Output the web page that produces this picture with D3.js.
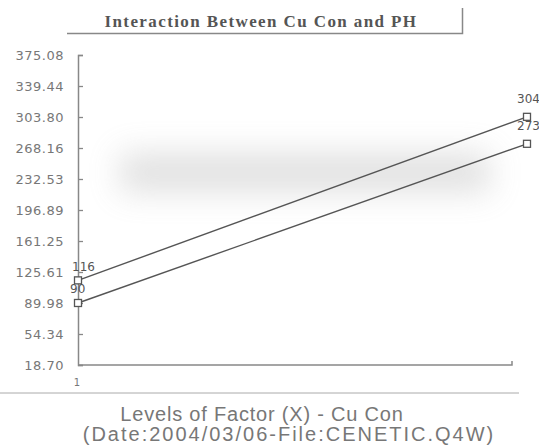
<!DOCTYPE html>
<html>
<head>
<meta charset="utf-8">
<script src="https://cdnjs.cloudflare.com/ajax/libs/d3/7.8.5/d3.min.js"></script>
<style>
  body { margin: 0; background: #fff; }
  svg { display: block; }
</style>
</head>
<body>
<div id="chart-area"></div>
<script>
// data
const levels = [1, 2]
const levelLabels = ["1", ""]
const series1 = [116, 304]
const series2 = [90, 273]
const series1Labels = ["116", "304"]
const series2Labels = ["90", "273"]
const yTicks = [18.70, 54.34, 89.98, 125.61, 161.25, 196.89, 232.53, 268.16, 303.80, 339.44, 375.08]

const W = 539, H = 446
const AX = { LEFT: 78, TOP: 55, BOTTOM: 365, END: 512 }

const svg = d3.select("#chart-area").append("svg")
  .attr("width", W)
  .attr("height", H)

const x = d3.scaleLinear()
  .domain([1, 2])
  .range([AX.LEFT, 527])
const y = d3.scaleLinear()
  .domain([18.70, 375.08])
  .range([AX.BOTTOM, AX.TOP])

// faint scan tone behind the plot
const defs = svg.append("defs")
defs.append("filter").attr("id", "blur")
  .attr("x", "-50%").attr("y", "-100%").attr("width", "200%").attr("height", "300%")
  .append("feGaussianBlur").attr("stdDeviation", 16)
svg.append("rect")
  .attr("x", 120).attr("y", y(262)).attr("width", 370).attr("height", y(218) - y(262))
  .attr("fill", "#999").attr("opacity", 0.3)
  .attr("filter", "url(#blur)")

// title box
svg.append("text")
  .attr("x", 261).attr("y", 27)
  .attr("text-anchor", "middle")
  .attr("font-family", "Liberation Serif, DejaVu Serif, serif")
  .attr("font-weight", "bold")
  .attr("font-size", "17px")
  .attr("letter-spacing", "1.4px")
  .attr("fill", "#555")
  .text("Interaction Between Cu Con and PH")
svg.append("path")
  .attr("d", "M67,33.5H462.5V8")
  .attr("fill", "none")
  .attr("stroke", "#888")
  .attr("stroke-width", 1.5)

// Y axis
const yAxisCall = d3.axisRight(y)
  .tickValues(yTicks)
  .tickSize(5)
  .tickFormat("")
const yAxis = svg.append("g")
  .attr("transform", `translate(${AX.LEFT}, 0)`)
  .call(yAxisCall)
yAxis.select(".domain").attr("stroke", "#888").attr("stroke-width", 1.5)
yAxis.selectAll(".tick line").attr("stroke", "#888").attr("stroke-width", 1.3)

svg.selectAll(".ylab")
  .data(yTicks)
  .enter().append("text")
  .attr("class", "ylab")
  .attr("x", 64)
  .attr("y", d => y(d) + 5)
  .attr("text-anchor", "end")
  .attr("font-family", "DejaVu Sans, sans-serif")
  .attr("font-size", "13px")
  .attr("letter-spacing", "0.5px")
  .attr("fill", "#777")
  .text(d => d.toFixed(2))

// X axis
svg.append("path")
  .attr("d", `M${AX.LEFT},${AX.BOTTOM}H${AX.END}V${AX.BOTTOM - 4}`)
  .attr("fill", "none")
  .attr("stroke", "#888")
  .attr("stroke-width", 1.5)
svg.selectAll(".xlab")
  .data(levels)
  .enter().append("text")
  .attr("class", "xlab")
  .attr("x", d => x(d) - 1)
  .attr("y", 386)
  .attr("text-anchor", "middle")
  .attr("font-family", "DejaVu Sans, sans-serif")
  .attr("font-size", "10px")
  .attr("fill", "#777")
  .text((d, i) => levelLabels[i])

// separator
svg.append("line")
  .attr("x1", 0).attr("x2", 519)
  .attr("y1", 393).attr("y2", 393)
  .attr("stroke", "#aaa").attr("stroke-width", 1)

// axis title
svg.append("text")
  .attr("x", 262).attr("y", 421)
  .attr("text-anchor", "middle")
  .attr("font-family", "Liberation Sans, Arial, sans-serif")
  .attr("font-size", "20px")
  .attr("letter-spacing", "0.8px")
  .attr("fill", "#777")
  .text("Levels of Factor (X) - Cu Con")
svg.append("text")
  .attr("x", 289).attr("y", 441)
  .attr("text-anchor", "middle")
  .attr("font-family", "Liberation Sans, Arial, sans-serif")
  .attr("font-size", "20px")
  .attr("letter-spacing", "2px")
  .attr("fill", "#777")
  .text("(Date:2004/03/06-File:CENETIC.Q4W)")

// lines
const line = d3.line()
  .x((d, i) => x(levels[i]))
  .y(d => y(d))

const allSeries = [
  { values: series1, labels: series1Labels, dx: [-6, -10], dy: [-9, -14] },
  { values: series2, labels: series2Labels, dx: [-8, -10], dy: [-10, -14] }
]

allSeries.forEach(s => {
  svg.append("path")
    .datum(s.values)
    .attr("d", line)
    .attr("fill", "none")
    .attr("stroke", "#555")
    .attr("stroke-width", 1.4)

  svg.selectAll(null)
    .data(s.values)
    .enter().append("rect")
    .attr("x", (d, i) => x(levels[i]) - 3.5)
    .attr("y", d => y(d) - 3.5)
    .attr("width", 7).attr("height", 7)
    .attr("fill", "#fff")
    .attr("stroke", "#555")
    .attr("stroke-width", 1.3)

  svg.selectAll(null)
    .data(s.values)
    .enter().append("text")
    .attr("x", (d, i) => x(levels[i]) + s.dx[i])
    .attr("y", (d, i) => y(d) + s.dy[i])
    .attr("text-anchor", "start")
    .attr("font-family", "DejaVu Sans, sans-serif")
    .attr("font-size", "12px")
    .attr("fill", "#555")
    .text((d, i) => s.labels[i])
})
</script>
</body>
</html>
